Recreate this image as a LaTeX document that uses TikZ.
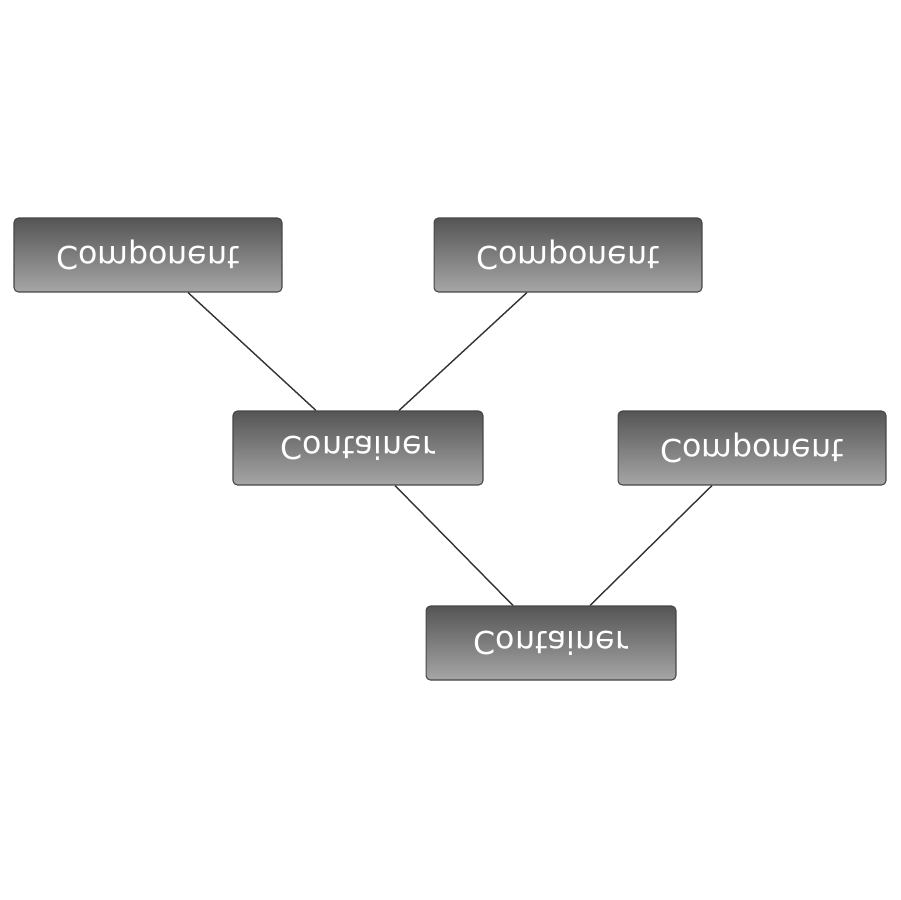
\documentclass[tikz,border=0pt]{standalone}
\usepackage{tikz}
\usepackage{xcolor}
\usepackage{fontspec}
\setmainfont{DejaVu Sans}
\definecolor{boxtop}{HTML}{555555}
\definecolor{boxbottom}{HTML}{A6A6A6}
\definecolor{boxline}{HTML}{464646}
\definecolor{linkcol}{HTML}{333333}
\newcommand{\flipped}[1]{\scalebox{1}[-1]{#1}}
\begin{document}
\begin{tikzpicture}[x=0.02cm,y=-0.02cm,
    unit/.style={draw=boxline,line width=0.6pt,rounded corners=2.5pt,
        top color=boxtop,bottom color=boxbottom,text=white,
        minimum height=1.48cm,inner sep=0pt,font=\fontsize{18}{20}\selectfont},
    component/.style={unit,minimum width=5.36cm},
    container/.style={unit,minimum width=5.0cm},
    link/.style={draw=linkcol,line width=0.8pt}]
        % fix the page to the reference size
        \useasboundingbox (0,0) rectangle (900,900);
        % boxes
        \node[component] (comp1) at (148,255) {\flipped{Component}};
        \node[component] (comp2) at (568,255) {\flipped{Component}};
        \node[container] (cont1) at (358,448) {\flipped{Container}};
        \node[component] (comp3) at (752,448) {\flipped{Component}};
        \node[container] (cont2) at (551,643) {\flipped{Container}};
        % links
        \draw[link] ([xshift=0.8cm]comp1.south) -- ([xshift=-0.84cm]cont1.north);
        \draw[link] ([xshift=-0.82cm]comp2.south) -- ([xshift=0.82cm]cont1.north);
        \draw[link] ([xshift=0.74cm]cont1.south) -- ([xshift=-0.76cm]cont2.north);
        \draw[link] ([xshift=-0.8cm]comp3.south) -- ([xshift=0.78cm]cont2.north);
    \end{tikzpicture}
\end{document}
